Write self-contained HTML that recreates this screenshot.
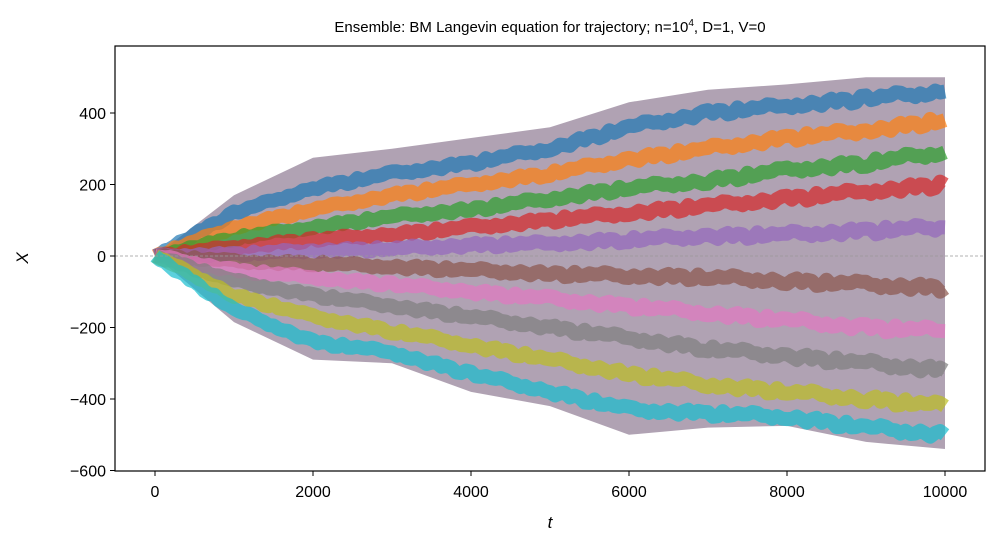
<!DOCTYPE html>
<html><head><meta charset="utf-8">
<style>
html,body{margin:0;padding:0;background:#fff;}
svg{display:block;font-family:"Liberation Sans","DejaVu Sans",sans-serif;}
</style></head>
<body>
<svg id="chart" width="1000" height="550" viewBox="0 0 1000 550">
  <text x="550" y="32" text-anchor="middle" font-size="15" fill="#000">Ensemble: BM Langevin equation for trajectory; n=10<tspan dy="-6" font-size="10">4</tspan><tspan dy="6">, D=1, V=0</tspan></text>
  <g id="plot"></g>
  <rect x="115" y="46" width="870" height="425" fill="none" stroke="#000" stroke-width="1.2"/>
  <g id="axes"></g>
  <text x="550" y="528" text-anchor="middle" font-size="17" font-style="italic">t</text>
  <text x="28" y="258" text-anchor="middle" font-size="17" font-style="italic" transform="rotate(-90 28 258)">X</text>
</svg>
<script>
const tSteps = [0,1000,2000,3000,4000,5000,6000,7000,8000,9000,10000];
const upperEnv = [0,170,275,300,330,360,430,465,480,500,500];
const lowerEnv = [0,-185,-290,-300,-380,-420,-500,-480,-475,-520,-540];
const series1 = [0,120,190,230,260,300,360,400,420,440,460];
const series2 = [0,80,130,170,200,230,270,300,330,350,380];
const series3 = [0,50,80,110,130,160,190,210,240,260,290];
const series4 = [0,25,45,60,80,100,120,140,160,180,200];
const series5 = [0,5,15,20,30,35,45,55,60,70,80];
const series6 = [0,-15,-20,-30,-40,-50,-55,-60,-70,-80,-90];
const series7 = [0,-40,-60,-80,-100,-120,-140,-160,-180,-200,-210];
const series8 = [0,-70,-110,-140,-170,-200,-230,-260,-280,-300,-320];
const series9 = [0,-110,-170,-210,-250,-290,-330,-360,-380,-400,-420];
const series10 = [0,-150,-240,-270,-330,-380,-430,-440,-450,-480,-500];
const xTicks = [0,2000,4000,6000,8000,10000];
const yTicks = [-600,-400,-200,0,200,400];
const colors = ['#1f77b4','#ff7f0e','#2ca02c','#d62728','#9467bd','#8c564b','#e377c2','#7f7f7f','#bcbd22','#17becf'];

const NS='http://www.w3.org/2000/svg';
const xS = t => 155 + t*0.079;
const yS = v => 256 - v*0.3575;
const plot=document.getElementById('plot'), axes=document.getElementById('axes');
function mk(tag,attrs,parent){const e=document.createElementNS(NS,tag);for(const k in attrs)e.setAttribute(k,attrs[k]);parent.appendChild(e);return e;}

let d='M'+tSteps.map((t,i)=>xS(t)+','+yS(upperEnv[i])).join('L');
for(let i=tSteps.length-1;i>=0;i--) d+='L'+xS(tSteps[i])+','+yS(lowerEnv[i]);
const env=mk('path',{d:d+'Z',fill:'#85708a','fill-opacity':0.65,stroke:'none'},plot);



const allSeries=[series1,series2,series3,series4,series5,series6,series7,series8,series9,series10];
const jig=[0,4,-3,7,2,-6,-1,5,-4,8,1,-7,3,-2,6,-5,2,-8,4,0,-3,7,-6,1];
allSeries.forEach((s,si)=>{
  let pts=[];
  const N=16;
  for(let i=0;i<tSteps.length-1;i++){
    for(let k=0;k<N;k++){
      const f=k/N, t=tSteps[i]+f*(tSteps[i+1]-tSteps[i]);
      const v=s[i]+f*(s[i+1]-s[i]) + (i===0&&k===0?0:jig[(k*5+si*7+i*3)%24]*(0.6+i*0.08));
      pts.push(xS(t).toFixed(1)+','+yS(v).toFixed(1));
    }
  }
  pts.push(xS(tSteps[tSteps.length-1])+','+yS(s[s.length-1]));
  const p=mk('polyline',{points:pts.join(' '),fill:'none',stroke:colors[si],'stroke-width':14,'stroke-opacity':0.7,'stroke-linejoin':'round'},plot);
  
  
});

const zl=mk('line',{x1:115,x2:985,y1:yS(0),y2:yS(0),stroke:'#999','stroke-width':0.8,'stroke-dasharray':'3,2'},plot);



xTicks.forEach(t=>{
  const x=xS(t);
  const tk=mk('line',{x1:x,x2:x,y1:471,y2:476,stroke:'#000','stroke-width':1},axes);
  
  
  const lb=mk('text',{x:x,y:497,'text-anchor':'middle','font-size':16},axes);
  lb.textContent=t;
  
  
});
yTicks.forEach(v=>{
  const y=yS(v);
  const tk=mk('line',{x1:110,x2:115,y1:y,y2:y,stroke:'#000','stroke-width':1},axes);
  
  
  const lb=mk('text',{x:106,y:y+6,'text-anchor':'end','font-size':16},axes);
  lb.textContent=v<0?'\u2212'+(-v):v;
  
  
});
</script>
</body></html>
